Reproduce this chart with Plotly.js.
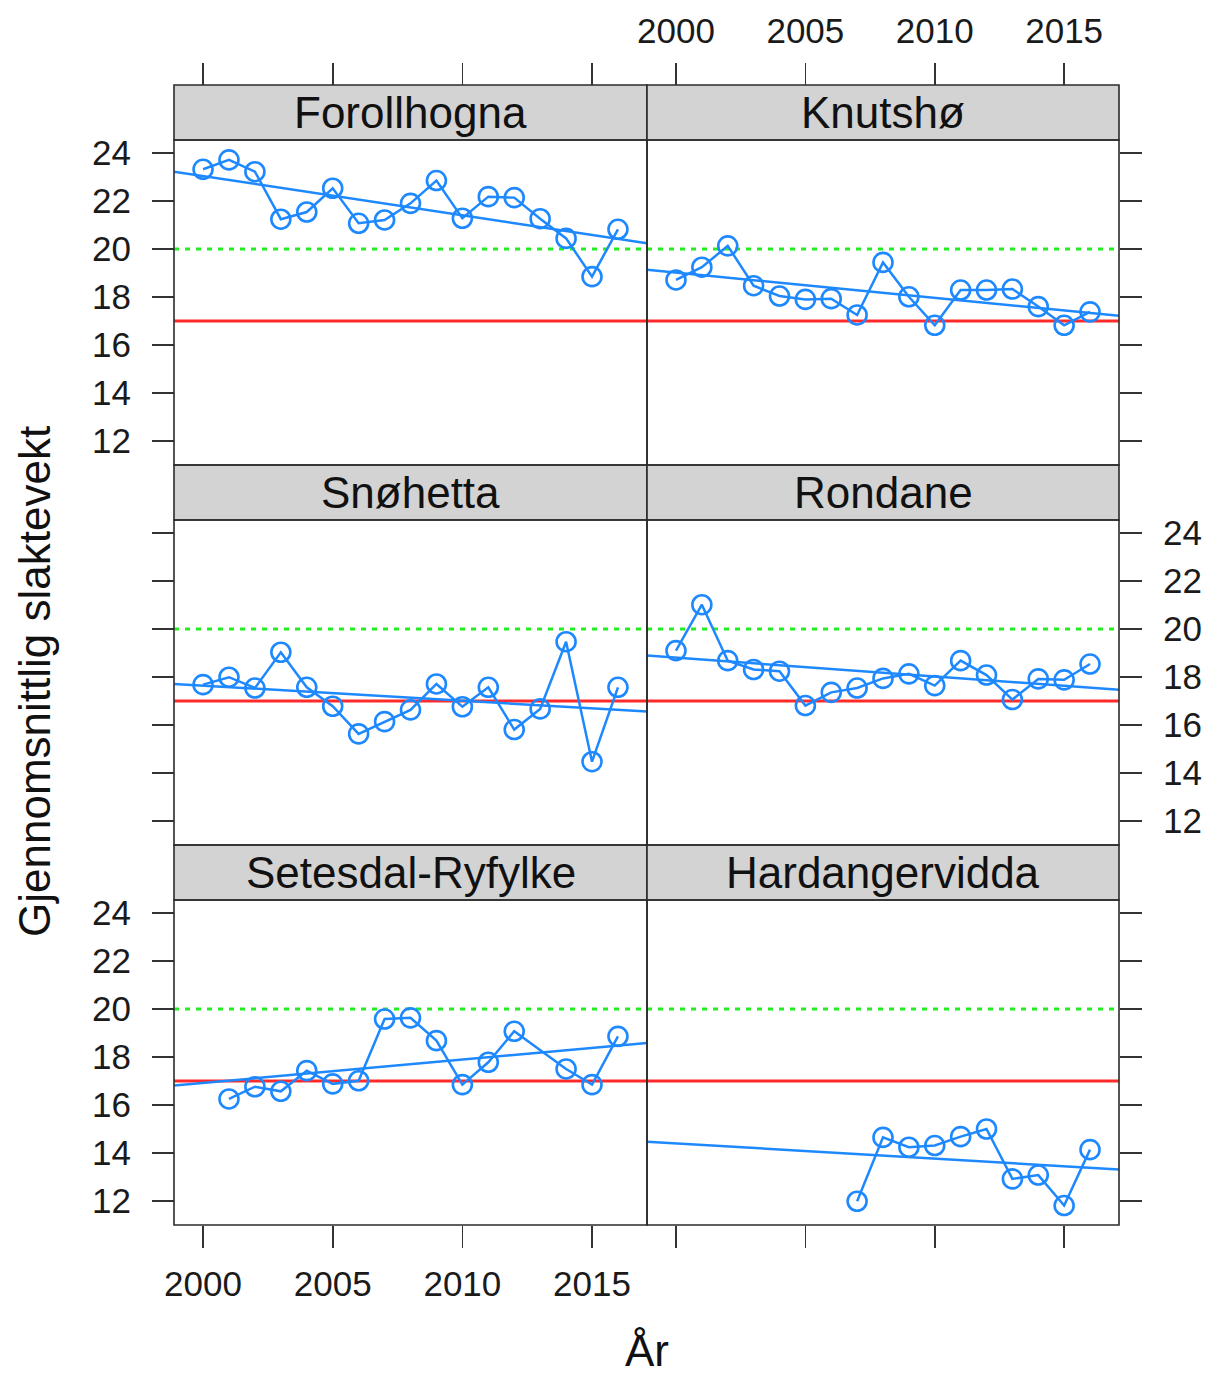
<!DOCTYPE html>
<html>
<head>
<meta charset="utf-8">
<script src="https://cdn.plot.ly/plotly-3.0.1.min.js"></script>
<style>html,body{margin:0;padding:0;background:#fff;}#chart{width:1208px;height:1377px;}</style>
</head>
<body>
<div id="chart"></div>
<script>
// ---- data ----
const regions = ["Forollhogna", "Knutshø", "Snøhetta", "Rondane", "Setesdal-Ryfylke", "Hardangervidda"];
const yearsFull = [2000, 2001, 2002, 2003, 2004, 2005, 2006, 2007, 2008, 2009, 2010, 2011, 2012, 2013, 2014, 2015, 2016];
const forollhogna = [23.32, 23.71, 23.22, 21.24, 21.54, 22.53, 21.07, 21.21, 21.90, 22.85, 21.28, 22.18, 22.14, 21.26, 20.44, 18.85, 20.82];
const knutsho = [18.71, 19.24, 20.13, 18.47, 18.04, 17.90, 17.93, 17.25, 19.44, 18.01, 16.82, 18.29, 18.29, 18.33, 17.60, 16.82, 17.38];
const snohetta = [17.68, 17.99, 17.54, 19.03, 17.57, 16.78, 15.63, 16.14, 16.63, 17.71, 16.76, 17.57, 15.81, 16.67, 19.47, 14.47, 17.57];
const rondane = [19.10, 21.01, 18.68, 18.31, 18.24, 16.81, 17.36, 17.54, 17.94, 18.13, 17.64, 18.68, 18.08, 17.06, 17.92, 17.88, 18.54];
const yearsSetesdal = [2001, 2002, 2003, 2004, 2005, 2006, 2007, 2008, 2009, 2010, 2011, 2012, 2014, 2015, 2016];
const setesdal = [16.25, 16.76, 16.57, 17.43, 16.88, 17.01, 19.58, 19.63, 18.68, 16.85, 17.78, 19.07, 17.50, 16.85, 18.86];
const yearsHardanger = [2007, 2008, 2009, 2010, 2011, 2012, 2013, 2014, 2015, 2016];
const hardanger = [11.99, 14.65, 14.24, 14.31, 14.68, 15.00, 12.92, 13.08, 11.81, 14.14];
// fitted trend line value at left and right edge of each panel
const trendStart = [23.22, 19.13, 17.71, 18.89, 16.81, 14.47];
const trendEnd = [20.24, 17.22, 16.56, 17.47, 18.58, 13.31];
const redLimit = 17;
const greenLimit = 20;
const xTicks = [2000, 2005, 2010, 2015];
const yTicks = [12, 14, 16, 18, 20, 22, 24];
const axisTitleX = "År";
const axisTitleY = "Gjennomsnittlig slaktevekt";

// ---- layout geometry (pixels) ----
const W = 1208, H = 1377;
const xRange = [1998.88, 2017.12];
const yRange = [11.0, 24.54];
const colEdges = [[174, 647], [647, 1119]];
const rowPanels = [[140, 465], [520, 845], [900, 1225]];
const rowStrips = [[85, 140], [465, 520], [845, 900]];
const px = v => v / W;
const py = v => 1 - v / H;

const xs = [yearsFull, yearsFull, yearsFull, yearsFull, yearsSetesdal, yearsHardanger];
const ys = [forollhogna, knutsho, snohetta, rondane, setesdal, hardanger];

const blue = "#1E88FF";
const FONT = "Liberation Sans, Arial, Helvetica, sans-serif";
const traces = [];
const layout = {
  width: W, height: H,
  margin: {l: 0, r: 0, t: 0, b: 0},
  paper_bgcolor: "#fff", plot_bgcolor: "rgba(0,0,0,0)",
  showlegend: false,
  font: {family: FONT, color: "#1a1a1a", size: 35},
  shapes: [], annotations: []
};

for (let i = 0; i < 6; i++) {
  const row = Math.floor(i / 2), col = i % 2;
  const n = i + 1;
  const xa = "x" + (n === 1 ? "" : n), ya = "y" + (n === 1 ? "" : n);
  const xk = "xaxis" + (n === 1 ? "" : n), yk = "yaxis" + (n === 1 ? "" : n);
  const [x0, x1] = colEdges[col];
  const [p0, p1] = rowPanels[row];
  const [s0, s1] = rowStrips[row];

  // x axis
  const xaxis = {
    domain: [px(x0), px(x1)], range: xRange, showgrid: false, zeroline: false,
    showline: false, tickvals: xTicks, ticktext: xTicks.map(String),
    tickfont: {family: FONT, size: 35, color: "#1a1a1a"},
    ticklen: 22, tickwidth: 1.6, tickcolor: "#333", anchor: "free", ticklabelstandoff: 6
  };
  if (row === 0) {
    xaxis.side = "top"; xaxis.position = py(s0); xaxis.ticks = "outside";
    xaxis.showticklabels = (col === 1);
  } else if (row === 2) {
    xaxis.side = "bottom"; xaxis.position = py(p1); xaxis.ticks = "outside";
    xaxis.showticklabels = (col === 0);
  } else {
    xaxis.side = "bottom"; xaxis.position = py(p1); xaxis.ticks = ""; xaxis.showticklabels = false;
  }
  layout[xk] = xaxis;

  // y axis
  const yaxis = {
    domain: [py(p1), py(p0)], range: yRange, showgrid: false, zeroline: false,
    showline: false, tickvals: yTicks, ticktext: yTicks.map(String),
    tickfont: {family: FONT, size: 35, color: "#1a1a1a"},
    ticks: "outside", ticklen: 22, tickwidth: 1.6, tickcolor: "#333",
    anchor: "free", ticklabelstandoff: 14,
    side: col === 0 ? "left" : "right",
    position: col === 0 ? px(x0) : px(x1)
  };
  // alternating labels: row 0 & 2 left, row 1 right
  yaxis.showticklabels = (row === 1) ? (col === 1) : (col === 0);
  layout[yk] = yaxis;

  // reference lines
  traces.push({x: xRange, y: [redLimit, redLimit], xaxis: xa, yaxis: ya, mode: "lines",
    line: {color: "#FF2A2A", width: 3}, hoverinfo: "skip"});
  traces.push({x: xRange, y: [greenLimit, greenLimit], xaxis: xa, yaxis: ya, mode: "lines",
    line: {color: "#22EE22", width: 3, dash: "5px,6px"}, hoverinfo: "skip"});
  // trend line
  traces.push({x: xRange, y: [trendStart[i], trendEnd[i]], xaxis: xa, yaxis: ya, mode: "lines",
    line: {color: blue, width: 2.5}, hoverinfo: "skip"});
  // data
  traces.push({x: xs[i], y: ys[i], xaxis: xa, yaxis: ya, mode: "lines+markers",
    line: {color: blue, width: 2.5},
    marker: {symbol: "circle-open", size: 19, color: blue, line: {width: 2.6, color: blue}},
    name: regions[i]});

  // strip
  layout.shapes.push({type: "rect", xref: "paper", yref: "paper",
    x0: px(x0), x1: px(x1), y0: py(s1), y1: py(s0),
    fillcolor: "#D3D3D3", line: {color: "#2b2b2b", width: 1.6}, layer: "below"});
  // panel border
  layout.shapes.push({type: "rect", xref: "paper", yref: "paper",
    x0: px(x0), x1: px(x1), y0: py(p1), y1: py(p0),
    fillcolor: "rgba(0,0,0,0)", line: {color: "#2b2b2b", width: 1.6}, layer: "above"});
  layout.annotations.push({text: regions[i], xref: "paper", yref: "paper",
    x: px((x0 + x1) / 2), y: py((s0 + s1) / 2), xanchor: "center", yanchor: "middle",
    showarrow: false, font: {family: FONT, size: 44, color: "#111"}});
}

layout.annotations.push({text: axisTitleX, xref: "paper", yref: "paper",
  x: px(647), y: py(1350), xanchor: "center", yanchor: "middle", showarrow: false,
  font: {family: FONT, size: 44, color: "#111"}});
layout.annotations.push({text: axisTitleY, xref: "paper", yref: "paper",
  x: px(34), y: py(682), xanchor: "center", yanchor: "middle", showarrow: false, textangle: -90,
  font: {family: FONT, size: 44, color: "#111"}});

Plotly.newPlot("chart", traces, layout, {staticPlot: true});
</script>
</body>
</html>
